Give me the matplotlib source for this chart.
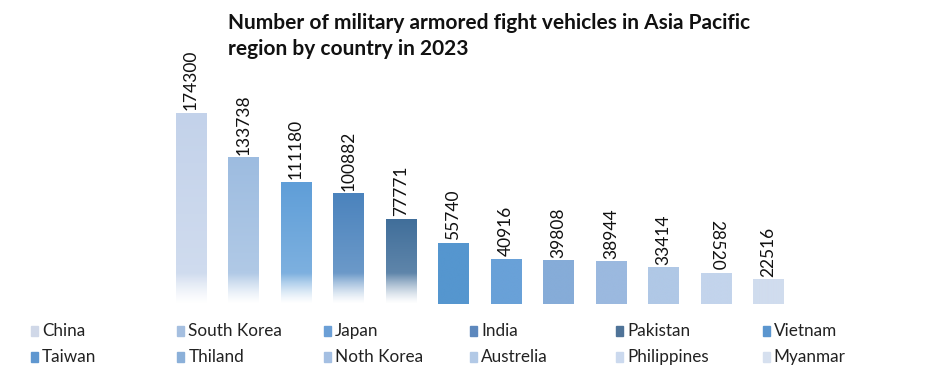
import matplotlib
matplotlib.use('Agg')
import matplotlib.pyplot as plt
import matplotlib.colors as mcolors
from matplotlib.patches import Rectangle
import numpy as np

plt.rcParams['font.family'] = ['Lato', 'DejaVu Sans']

countries = ['China', 'South Korea', 'Japan', 'India', 'Pakistan', 'Vietnam',
             'Taiwan', 'Thiland', 'Noth Korea', 'Austrelia', 'Philippines', 'Myanmar']
vehicles = [174300, 133738, 111180, 100882, 77771, 55740,
            40916, 39808, 38944, 33414, 28520, 22516]
colors = ['#c3d2ea', '#9dbce0', '#5f9ed8', '#4b83bd', '#406e9a', '#5596cf',
          '#69a1d8', '#86acd8', '#9bb9df', '#b0c8e6', '#c3d4ec', '#d0dcee']
legend_colors = ['#d0d8e8', '#a5bfe0', '#6b9fd6', '#5d88bd', '#4f7398', '#5b96cf',
                 '#5f97d0', '#8bb0d9', '#a4bfe2', '#b2c9e6', '#cbd9ee', '#d6e0ef']
faded = [True, True, True, True, True, False,
         False, False, False, False, False, False]
# the Philippines label is printed the other way round in the original
label_rot = [90, 90, 90, 90, 90, 90, 90, 90, 90, 90, 270, 90]

title = 'Number of military armored fight vehicles in Asia Pacific\nregion by country in 2023'

fig = plt.figure(figsize=(9.35, 3.71), dpi=100)
ax = fig.add_axes([0.1762, 0.1806, 0.6738, 0.70])
x = np.arange(len(countries))
bars = ax.bar(x, vehicles, width=0.59, color='none', edgecolor='none')
ymax = 174300 * 0.70 * 371 / 191

fade_h = 28000
for b, v, c, f in zip(bars, vehicles, colors, faded):
    n = 200
    ys = np.linspace(0, v, n)  # bottom -> top
    rgb = np.array(mcolors.to_rgb(c))
    img = np.zeros((n, 1, 4))
    if f:
        # lighter lower down, full colour at the top
        mix = 0.25 * (1 - ys / v)
        img[:, 0, :3] = rgb[None, :] * (1 - mix[:, None]) + mix[:, None]
        img[:, 0, 3] = np.clip(ys / fade_h, 0, 1) ** 1.3
    else:
        img[:, 0, :3] = rgb
        img[:, 0, 3] = 1
    x0 = b.get_x()
    im = ax.imshow(img, extent=(x0, x0 + b.get_width(), 0, v), origin='lower',
                   aspect='auto', interpolation='bilinear', zorder=2)
    im.set_clip_path(b)

ax.set_xlim(-0.5, len(countries) - 0.5)
ax.set_ylim(0, ymax)
ax.axis('off')

for i, v in enumerate(vehicles):
    ax.text(x[i], v + 2500, str(v), ha='center', va='bottom',
            rotation=label_rot[i], rotation_mode='default',
            fontsize=12.5, color='#111111')

fig.text(0.244, 0.965, title, ha='left', va='top', fontsize=15, fontweight='bold',
         color='#111111', linespacing=1.4)

# legend, six evenly spaced columns
for i, (name, c) in enumerate(zip(countries, legend_colors)):
    col, row = i % 6, i // 6
    px = 31 + col * 146.3
    py = 331 + row * 26
    fig.patches.append(Rectangle((px / 935, 1 - (py + 5) / 371), 7 / 935, 10 / 371,
                                 transform=fig.transFigure, color=c))
    fig.text((px + 11) / 935, 1 - py / 371, name, ha='left', va='center',
             fontsize=12.3, color='#222222')

fig.savefig('out.png', dpi=100)
